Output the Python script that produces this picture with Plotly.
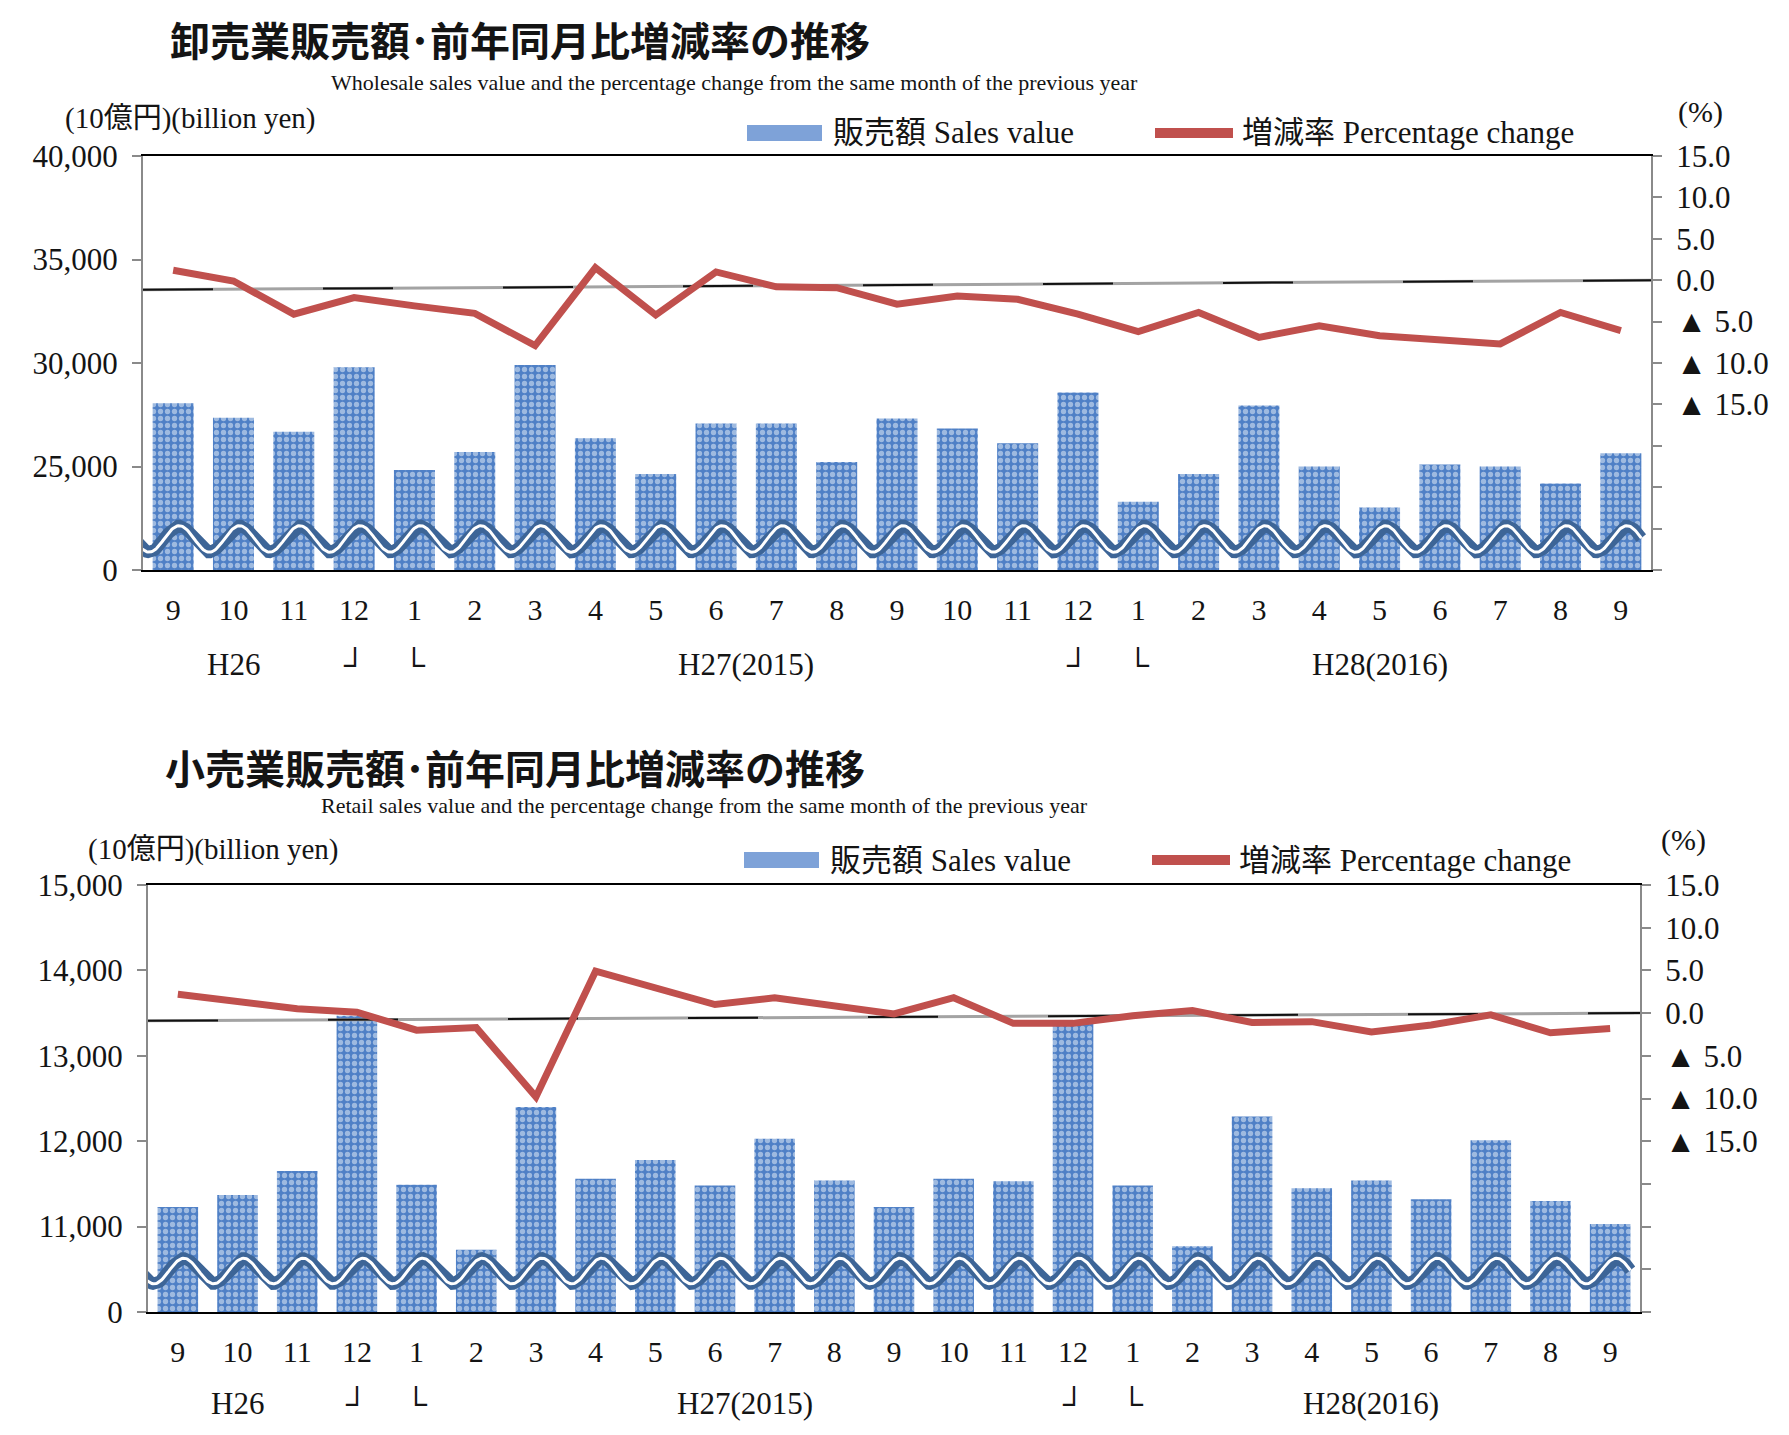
import numpy as np
import plotly.graph_objects as go

W, H = 1789, 1435

months = ["9", "10", "11", "12", "1", "2", "3", "4", "5", "6", "7", "8",
          "9", "10", "11", "12", "1", "2", "3", "4", "5", "6", "7", "8", "9"]

wholesale_sales = [28050, 27350, 26680, 29800, 24830, 25700, 29900, 26360, 24640,
                   27080, 27080, 25220, 27320, 26840, 26120, 28570, 23300, 24640,
                   27950, 25000, 23020, 25100, 25000, 24180, 25640]
wholesale_pct = [1.2, -0.1, -4.1, -2.1, -3.1, -4.0, -7.9, 1.5, -4.2, 1.0, -0.8, -0.9,
                 -2.9, -1.9, -2.3, -4.1, -6.2, -3.9, -6.9, -5.5, -6.7, -7.3, -7.7, -3.9, -6.1]

retail_sales = [11230, 11370, 11650, 13470, 11490, 10730, 12400, 11560, 11780, 11480,
                12030, 11540, 11230, 11560, 11530, 13400, 11480, 10770, 12290, 11450,
                11540, 11320, 12010, 11300, 11030]
retail_pct = [2.2, 1.4, 0.5, 0.1, -2.0, -1.7, -9.8, 4.9, 3.0, 1.0, 1.8, 0.9, -0.1,
              1.8, -1.2, -1.2, -0.3, 0.3, -1.1, -1.0, -2.2, -1.4, -0.2, -2.3, -1.8]

era_labels = ["H26", "┘", "└", "H27(2015)", "┘", "└", "H28(2016)"]
era_pos = [1, 3, 4, 9.5, 15, 16, 20]

wholesale_ticks = [20000, 25000, 30000, 35000, 40000]
wholesale_ticktext = ["0", "25,000", "30,000", "35,000", "40,000"]
retail_ticks = [10000, 11000, 12000, 13000, 14000, 15000]
retail_ticktext = ["0", "11,000", "12,000", "13,000", "14,000", "15,000"]
pct_ticks = [-35, -30, -25, -20, -15, -10, -5, 0, 5, 10, 15]
pct_ticktext = ["", "", "", "", "▲ 15.0", "▲ 10.0", "▲ 5.0", "0.0", "5.0", "10.0", "15.0"]

SERIF = "Liberation Serif, Noto Sans CJK JP, serif"
GOTHIC = "Noto Sans CJK JP, sans-serif"
TXT = "#141414"
BAR_BLUE = "#4f80c6"
RED = "#c0504d"
WAVE_BLUE = "#3d6597"

idx = list(range(len(months)))


def px(x):
    return x / W


def py(y):
    return 1 - y / H


fig = go.Figure()
annotations = []
shapes = []


def add_panel(n, sales, pct, ticks, ticktext, xdom, ydom, wave_c, wave_a, tilt, era_y):
    xa, ya, ya2 = ("x", "y", "y2") if n == 1 else ("x2", "y3", "y4")

    fig.add_trace(go.Bar(
        x=idx, y=sales, xaxis=xa, yaxis=ya, width=0.68, showlegend=False,
        marker=dict(color=BAR_BLUE, line_width=0,
                    pattern=dict(shape=".", fgcolor="#eef3fa", bgcolor=BAR_BLUE,
                                 size=7, solidity=0.45)),
    ))
    # zero line of the percentage axis (slightly tilted, as in the original)
    fig.add_trace(go.Scatter(x=[-0.5, 24.5], y=[tilt, 0], xaxis=xa, yaxis=ya2,
                             mode="lines", line=dict(color="#a3a3a3", width=3),
                             showlegend=False, hoverinfo="skip"))
    fig.add_trace(go.Scatter(x=[-0.5, 24.5], y=[tilt, 0], xaxis=xa, yaxis=ya2,
                             mode="lines", line=dict(color="#111", width=2, dash="70px,110px"),
                             showlegend=False, hoverinfo="skip"))
    # broken-axis wave
    wx = np.linspace(-0.85, 24.34, 1400)
    wy = wave_c + wave_a * np.cos(2 * np.pi * (wx - 0.1))
    fig.add_trace(go.Scatter(x=wx, y=wy, xaxis=xa, yaxis=ya, mode="lines",
                             line=dict(color=WAVE_BLUE, width=12), cliponaxis=False,
                             showlegend=False, hoverinfo="skip"))
    fig.add_trace(go.Scatter(x=wx, y=wy, xaxis=xa, yaxis=ya, mode="lines",
                             line=dict(color="white", width=3), cliponaxis=False,
                             showlegend=False, hoverinfo="skip"))
    fig.add_trace(go.Scatter(x=idx, y=pct, xaxis=xa, yaxis=ya2, mode="lines",
                             line=dict(color=RED, width=7), showlegend=False))

    xkey = "xaxis" if n == 1 else "xaxis2"
    ykey = "yaxis" if n == 1 else "yaxis3"
    y2key = "yaxis2" if n == 1 else "yaxis4"
    fig.update_layout(**{
        xkey: dict(domain=xdom, anchor=ya, range=[-0.5, 24.5], tickvals=idx,
                   ticktext=months, showline=True, linecolor="black", linewidth=2,
                   mirror=True, layer="below traces", ticks="", showgrid=False,
                   zeroline=False, ticklabelstandoff=12, automargin=False,
                   tickfont=dict(family=SERIF, size=30, color=TXT)),
        ykey: dict(domain=ydom, anchor=xa, range=[ticks[0], ticks[-1]], tickvals=ticks,
                   ticktext=ticktext, showline=True, linecolor="#8a8a8a", linewidth=2,
                   ticks="outside", ticklen=9, tickcolor="#8a8a8a", tickwidth=2,
                   showgrid=False, zeroline=False, ticklabelstandoff=8, automargin=False,
                   tickfont=dict(family=SERIF, size=31, color=TXT)),
        y2key: dict(overlaying=ya, side="right", anchor=xa, range=[-35, 15],
                    tickvals=pct_ticks, ticktext=pct_ticktext, showline=True,
                    linecolor="#8a8a8a", linewidth=2, ticks="outside", ticklen=9,
                    tickcolor="#8a8a8a", tickwidth=2, showgrid=False, zeroline=False,
                    ticklabelstandoff=8, automargin=False,
                    tickfont=dict(family=SERIF, size=31, color=TXT)),
    })

    for lab, pos in zip(era_labels, era_pos):
        annotations.append(dict(x=pos, xref=xa, y=py(era_y), yref="paper",
                                text=lab, showarrow=False, xanchor="center", yanchor="middle",
                                font=dict(family=SERIF, size=31, color=TXT)))


add_panel(1, wholesale_sales, wholesale_pct, wholesale_ticks, wholesale_ticktext,
          [px(143), px(1651)], [py(570), py(156)], 21500, 640, -1.15, 664)
add_panel(2, retail_sales, retail_pct, retail_ticks, retail_ticktext,
          [px(148), px(1640)], [py(1312), py(885)], 10480, 150, -0.9, 1403)

headers = [
    dict(title="卸売業販売額･前年同月比増減率の推移", tx=168, ty=39,
         sub="Wholesale sales value and the percentage change from the same month of the previous year",
         sx=329, sy=82, ux=63, uy=119, lx=747, ly=133, px_=1700, py_=112),
    dict(title="小売業販売額･前年同月比増減率の推移", tx=163, ty=767,
         sub="Retail sales value and the percentage change from the same month of the previous year",
         sx=319, sy=806, ux=86, uy=849, lx=744, ly=860, px_=1683, py_=840),
]

for h in headers:
    annotations += [
        dict(x=px(h["tx"]), y=py(h["ty"]), text=h["title"], xanchor="left", yanchor="middle",
             font=dict(family=GOTHIC, size=40, color=TXT, weight="bold")),
        dict(x=px(h["sx"]), y=py(h["sy"]), text=h["sub"], xanchor="left", yanchor="middle",
             font=dict(family=SERIF, size=22, color=TXT)),
        dict(x=px(h["ux"]), y=py(h["uy"]), text="(10億円)(billion yen)", xanchor="left",
             yanchor="middle", font=dict(family=SERIF, size=29, color=TXT)),
        dict(x=px(h["lx"] + 84), y=py(h["ly"]), text="販売額 Sales value", xanchor="left",
             yanchor="middle", font=dict(family=SERIF, size=31, color=TXT)),
        dict(x=px(h["lx"] + 493), y=py(h["ly"]), text="増減率 Percentage change", xanchor="left",
             yanchor="middle", font=dict(family=SERIF, size=31, color=TXT)),
        dict(x=px(h["px_"]), y=py(h["py_"]), text="(%)", xanchor="center", yanchor="middle",
             font=dict(family=SERIF, size=30, color=TXT)),
    ]
    shapes += [
        dict(type="rect", xref="paper", yref="paper", x0=px(h["lx"]), x1=px(h["lx"] + 75),
             y0=py(h["ly"] + 8), y1=py(h["ly"] - 8), fillcolor="#7ea2d8", line_width=0),
        dict(type="line", xref="paper", yref="paper", x0=px(h["lx"] + 408), x1=px(h["lx"] + 486),
             y0=py(h["ly"]), y1=py(h["ly"]), line=dict(color=RED, width=10)),
    ]

for a in annotations:
    a.setdefault("xref", "paper")
    a.setdefault("yref", "paper")
    a.setdefault("showarrow", False)

fig.update_layout(
    width=W, height=H, margin=dict(l=0, r=0, t=0, b=0, pad=0, autoexpand=False),
    paper_bgcolor="white", plot_bgcolor="white",
    annotations=annotations, shapes=shapes, bargap=0.32, showlegend=False,
)

fig.write_html("out.html", config={"displayModeBar": False},
               post_script="document.body.style.margin='0';")
